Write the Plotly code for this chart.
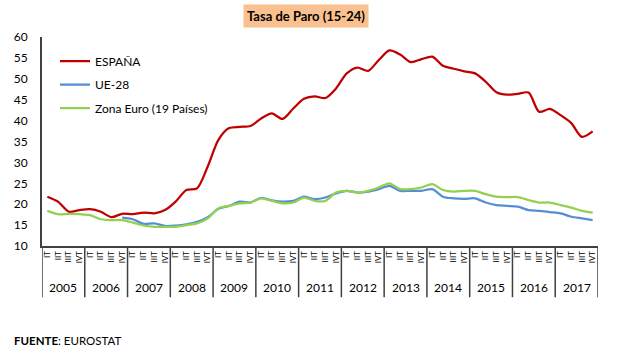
import plotly.graph_objects as go

years = [str(y) for y in range(2005, 2018)]
quarters = ["IT", "IIT", "IIIT", "IVT"]

espana = [21.8, 20.6, 18.2, 18.6, 18.8, 18.2, 16.9, 17.7, 17.6, 18.0,
          17.8, 18.6, 20.6, 23.4, 23.8, 29.0, 35.4, 38.2, 38.5, 38.7,
          40.5, 41.7, 40.4, 42.9, 45.2, 45.8, 45.4, 47.7, 51.3, 52.7,
          51.9, 54.5, 56.8, 55.8, 54.0, 54.7, 55.3, 53.1, 52.4, 51.8,
          51.3, 49.3, 46.8, 46.2, 46.4, 46.7, 42.1, 42.8, 41.3, 39.4,
          36.1, 37.4]
ue28 = [None] * 7 + [16.8, 16.4, 15.3, 15.4, 14.8, 14.9, 15.2, 15.8, 16.9, 18.9,
                     19.6, 20.6, 20.4, 21.5, 20.9, 20.6, 20.8, 21.8, 21.2, 21.6,
                     22.6, 23.2, 22.8, 23.0, 23.6, 24.4, 23.2, 23.2, 23.2, 23.6,
                     21.8, 21.4, 21.3, 21.4, 20.4, 19.8, 19.6, 19.4, 18.6, 18.4,
                     18.1, 17.8, 17.0, 16.6, 16.2]
zona_euro = [18.4, 17.6, 17.7, 17.6, 17.4, 16.4, 16.2, 16.2, 15.6, 14.9,
             14.6, 14.6, 14.6, 15.0, 15.4, 16.6, 19.0, 19.6, 20.2, 20.4,
             21.4, 20.8, 20.2, 20.4, 21.6, 20.8, 20.8, 22.8, 23.2, 22.8,
             23.2, 24.0, 25.0, 23.6, 23.6, 24.0, 24.8, 23.4, 23.0, 23.2,
             23.2, 22.4, 21.8, 21.7, 21.7, 21.0, 20.4, 20.4, 19.8, 19.2,
             18.4, 18.0]

n = len(espana)
xs = list(range(n))
ticktext = [quarters[i % 4] for i in xs]

FONT = "Lato"
fig = go.Figure()
series = [("ESPAÑA", espana, "#C00000"), ("UE-28", ue28, "#558ED5"),
          ("Zona Euro (19 Países)", zona_euro, "#92D050")]
for name, vals, col in series:
    fig.add_trace(go.Scatter(x=xs, y=vals, name=name, mode="lines",
                             legendgroup=name,
                             line=dict(color=col, width=2.25, shape="spline", smoothing=0.8),
                             connectgaps=False))

# year separators and labels
for k in range(len(years) + 1):
    fig.add_shape(type="line", xref="x", yref="paper", x0=4 * k - 0.5, x1=4 * k - 0.5,
                  y0=0, y1=-0.245, line=dict(color="#404040", width=1.5))
for k, y in enumerate(years):
    fig.add_annotation(x=4 * k + 1.5, y=-0.2, xref="x", yref="paper", text=y,
                       showarrow=False, font=dict(size=12, color="#000", family=FONT),
                       yanchor="middle")

fig.add_annotation(x=0.4757, y=1.1, xref="paper", yref="paper",
                   text="<b>Tasa de Paro (15-24)</b>", showarrow=False,
                   bgcolor="#FAC090", font=dict(size=13, color="#000", family=FONT),
                   borderpad=3, yanchor="middle")
fig.add_annotation(x=-0.054, y=-0.45, xref="paper", yref="paper",
                   text="<b>FUENTE</b>: EUROSTAT", showarrow=False, xanchor="left",
                   font=dict(size=11.5, color="#000", family=FONT), yanchor="middle")

fig.update_layout(
    width=624, height=354,
    margin=dict(l=42, r=26, t=37, b=108),
    paper_bgcolor="white", plot_bgcolor="white",
    font=dict(family=FONT, color="#000"),
    showlegend=True,
    legend=dict(x=0.0234, y=0.954, xanchor="left", yanchor="top",
                bgcolor="rgba(0,0,0,0)", font=dict(size=12, family=FONT),
                tracegroupgap=4.5, traceorder="grouped"),
    xaxis=dict(range=[-0.5, n - 0.5], tickvals=xs, ticktext=ticktext, tickangle=-90,
               tickfont=dict(size=8, color="#000"), showgrid=False, zeroline=False,
               showline=True, linecolor="#404040", linewidth=1.5, ticks=""),
    yaxis=dict(range=[10, 60], dtick=5, showgrid=False, zeroline=False,
               showline=True, linecolor="#404040", linewidth=2, ticks="",
               tickfont=dict(size=12, color="#000"), ticklabelstandoff=10),
)

fig.write_html("out.html")
